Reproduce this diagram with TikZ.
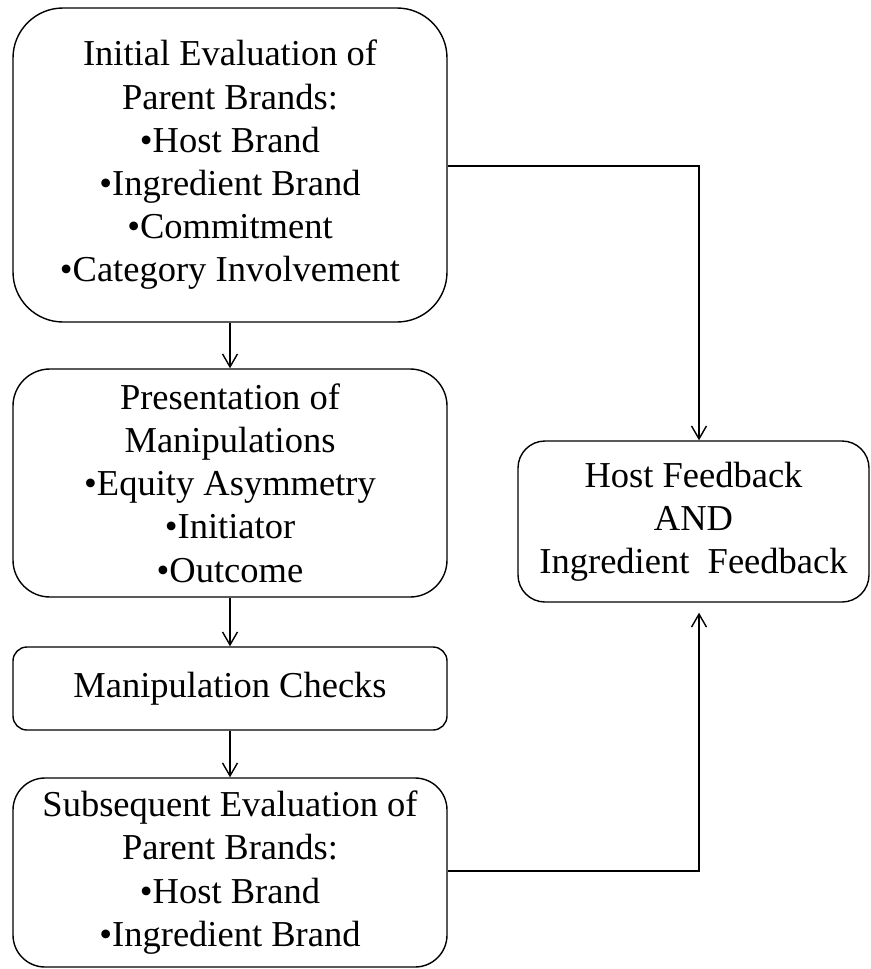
\documentclass[tikz,border=0pt]{standalone}
\usepackage{fontspec}
\setmainfont{Liberation Serif}
\usetikzlibrary{arrows.meta}
\begin{document}
\begin{tikzpicture}[x=1pt,y=-1pt,
  stage/.style={draw, line width=1.4pt, align=center, inner sep=0pt,
    font=\fontsize{36.5}{43.2}\selectfont},
  flow/.style={line width=1.4pt, -{Straight Barb[length=13pt,width=15pt,line width=1.4pt]}},
  link/.style={line width=1.4pt}]
\useasboundingbox (0,0) rectangle (870,969);

\node[stage, minimum width=434pt, minimum height=314pt, rounded corners=50pt] (b1) at (230,165)
  {Initial Evaluation of\\Parent Brands:\\•Host Brand\\•Ingredient Brand\\•Commitment\\•Category Involvement};
\node[stage, minimum width=434pt, minimum height=228pt, rounded corners=37pt] (b2) at (230,483)
  {Presentation of\\Manipulations\\•Equity Asymmetry\\•Initiator\\•Outcome};
\node[stage, minimum width=434pt, minimum height=83pt, rounded corners=14pt] (b3) at (230,688.5)
  {Manipulation Checks};
\node[stage, minimum width=434pt, minimum height=189pt, rounded corners=32pt] (b4) at (230,872.5)
  {Subsequent Evaluation of\\Parent Brands:\\•Host Brand\\•Ingredient Brand};
\node[stage, minimum width=351pt, minimum height=161pt, rounded corners=27pt] (b5) at (693.5,521.5)
  {Host Feedback\\AND\\Ingredient\ \ Feedback};

\coordinate (inA) at ([xshift=5.5pt]b5.north);
\coordinate (inB) at ([xshift=5.5pt,yshift=-10pt]b5.south);

\draw[flow] (b1.south) -- (b2.north);
\draw[flow] (b2.south) -- (b3.north);
\draw[flow] (b3.south) -- (b4.north);
\draw[flow] ([yshift=-1pt]b1.east) -| (inA);
\draw[flow] ([yshift=1.5pt]b4.east) -| (inB);
\end{tikzpicture}
\end{document}
